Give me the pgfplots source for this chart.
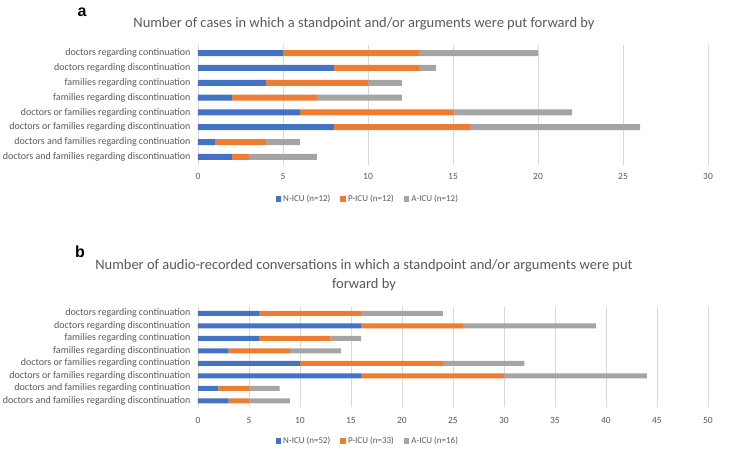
\documentclass[border=0pt]{standalone}
\usepackage{fontspec}
\setmainfont{Carlito}
\newfontfamily\arialfont{Liberation Sans}
\usepackage{pgfplots}
\usepackage{pgfplotstable}
\pgfplotsset{compat=1.18}
\definecolor{cblue}{HTML}{4472C4}
\definecolor{corange}{HTML}{ED7D31}
\definecolor{cgray}{HTML}{A5A5A5}
\definecolor{ctext}{HTML}{595959}
\definecolor{cgrid}{HTML}{D9D9D9}

\pgfplotstableread{
y N P A
0 2 1 4
1 1 3 2
2 8 8 10
3 6 9 7
4 2 5 5
5 4 6 2
6 8 5 1
7 5 8 7
}\dataA
\pgfplotstableread{
y N P A
0 3 2 4
1 2 3 3
2 16 14 14
3 10 14 8
4 3 6 5
5 6 7 3
6 16 10 13
7 6 10 8
}\dataB

\pgfplotsset{
  mybar/.style={
    xbar stacked,
    scale only axis,
    width=510pt,
    xmin=0,
    xtick distance=5,
    xmajorgrids,
    major grid style={cgrid, line width=0.6pt},
    axis line style={draw=none},
    tick style={draw=none},
    ytick={0,...,7},
    yticklabels={doctors and families regarding discontinuation,
      doctors and families regarding continuation,
      doctors or families regarding discontinuation,
      doctors or families regarding continuation,
      families regarding discontinuation,
      families regarding continuation,
      doctors regarding discontinuation,
      doctors regarding continuation},
    yticklabel style={font=\fontsize{10}{12}\selectfont, text=ctext, xshift=-4pt},
    xticklabel style={font=\fontsize{9.5}{11}\selectfont, text=ctext},
    /pgf/number format/assume math mode=true,
    legend columns=3,
    legend style={draw=none, fill=none, font=\fontsize{9}{11}\selectfont, text=ctext,
      /tikz/every even column/.append style={column sep=8pt}},
    legend image code/.code={\fill[##1,draw=none] (0pt,-2.8pt) rectangle (5.6pt,2.8pt);},
  }
}

\begin{document}
\begin{tikzpicture}
\useasboundingbox (0,0) rectangle (756pt,448pt);

% panel a
\node[font=\arialfont\bfseries\fontsize{16}{18}\selectfont, anchor=center] at (82pt,436pt) {a};
\node[font=\fontsize{14.5}{16}\selectfont, text=ctext, anchor=center] at (364pt,424pt)
  {Number of cases in which a standpoint and/or arguments were put forward by};

\begin{axis}[mybar,
  at={(198pt,283pt)}, anchor=south west,
  height=120pt, xmax=30, ymin=-0.55, ymax=7.55,
  bar width=6pt,
  xticklabel style={yshift=-5pt},
  legend style={at={(0.333,-0.283)}, anchor=center},
]
\addplot[fill=cblue, draw=none] table[x=N, y=y] {\dataA};
\addplot[fill=corange, draw=none] table[x=P, y=y] {\dataA};
\addplot[fill=cgray, draw=none] table[x=A, y=y] {\dataA};
\legend{N-ICU (n=12), P-ICU (n=12), A-ICU (n=12)}
\end{axis}

% panel b
\node[font=\arialfont\bfseries\fontsize{16}{18}\selectfont, anchor=center] at (80pt,196pt) {b};
\node[font=\fontsize{14.5}{16}\selectfont, text=ctext, anchor=center] at (364pt,182pt)
  {Number of audio-recorded conversations in which a standpoint and/or arguments were put};
\node[font=\fontsize{14.5}{16}\selectfont, text=ctext, anchor=center] at (364pt,163pt)
  {forward by};

\begin{axis}[mybar,
  at={(198pt,41pt)}, anchor=south west,
  height=100pt, xmax=50, ymin=-0.5, ymax=7.5,
  bar width=5pt,
  xticklabel style={yshift=-7pt},
  legend style={at={(0.333,-0.34)}, anchor=center},
]
\addplot[fill=cblue, draw=none] table[x=N, y=y] {\dataB};
\addplot[fill=corange, draw=none] table[x=P, y=y] {\dataB};
\addplot[fill=cgray, draw=none] table[x=A, y=y] {\dataB};
\legend{N-ICU (n=52), P-ICU (n=33), A-ICU (n=16)}
\end{axis}
\end{tikzpicture}
\end{document}
